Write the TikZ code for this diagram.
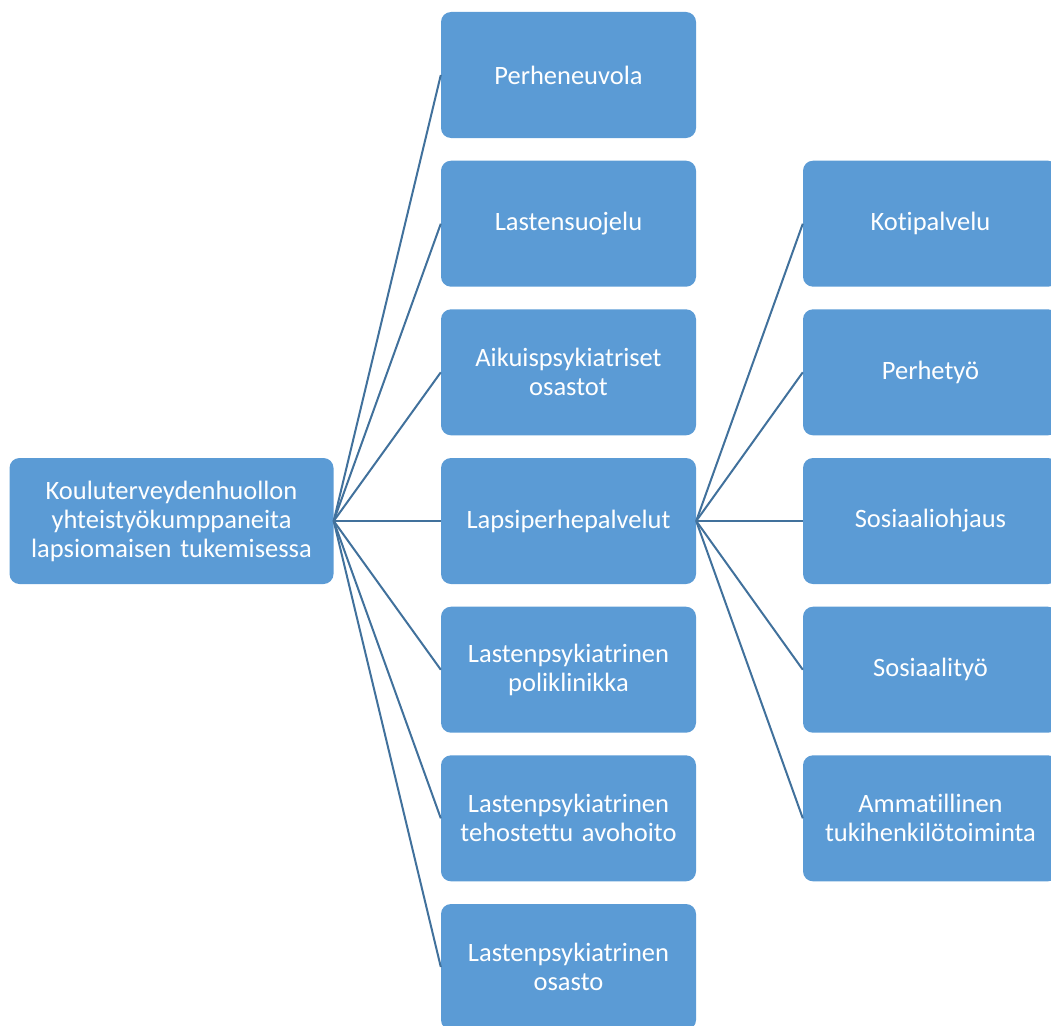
\documentclass[tikz,border=0pt]{standalone}
\usepackage{fontspec}
\setmainfont{Carlito}[Ligatures={NoCommon}]
\definecolor{boxblue}{HTML}{5B9BD5}
\definecolor{lineblue}{HTML}{41719C}
\tikzset{
  card/.style={fill=boxblue, draw=none, rounded corners=10pt, text=white,
    minimum width=255pt, minimum height=126pt, text width=245pt, align=center,
    inner sep=0pt, font=\fontsize{26.5}{29}\selectfont},
  rootcard/.style={card, minimum width=324pt, text width=314pt},
  link/.style={draw=lineblue, line width=2pt}
}
\begin{document}
\begin{tikzpicture}[x=1pt,y=-1pt]
\useasboundingbox (0,0) rectangle (1051,1025);
\clip (0,0) rectangle (1051,1025);
\node[rootcard] (root) at (171.5,521) {Kouluterveydenhuollon\\yhteistyökumppaneita\\lapsiomaisen tukemisessa};
\node[card] (m1) at (568.5,75) {Perheneuvola};
\node[card] (m2) at (568.5,223.7) {Lastensuojelu};
\node[card] (m3) at (568.5,372.3) {Aikuispsykiatriset\\osastot};
\node[card] (m4) at (568.5,521) {Lapsiperhepalvelut};
\node[card] (m5) at (568.5,669.7) {Lastenpsykiatrinen\\poliklinikka};
\node[card] (m6) at (568.5,818.3) {Lastenpsykiatrinen\\tehostettu avohoito};
\node[card] (m7) at (568.5,967) {Lastenpsykiatrinen\\osasto};
\node[card] (r1) at (930.5,223.7) {Kotipalvelu};
\node[card] (r2) at (930.5,372.3) {Perhetyö};
\node[card] (r3) at (930.5,521) {Sosiaaliohjaus};
\node[card] (r4) at (930.5,669.7) {Sosiaalityö};
\node[card] (r5) at (930.5,818.3) {Ammatillinen\\tukihenkilötoiminta};
\foreach \m in {m1,m2,m3,m4,m5,m6,m7}
  \draw[link] (root.east) -- (\m.west);
\foreach \r in {r1,r2,r3,r4,r5}
  \draw[link] (m4.east) -- (\r.west);
\end{tikzpicture}
\end{document}
